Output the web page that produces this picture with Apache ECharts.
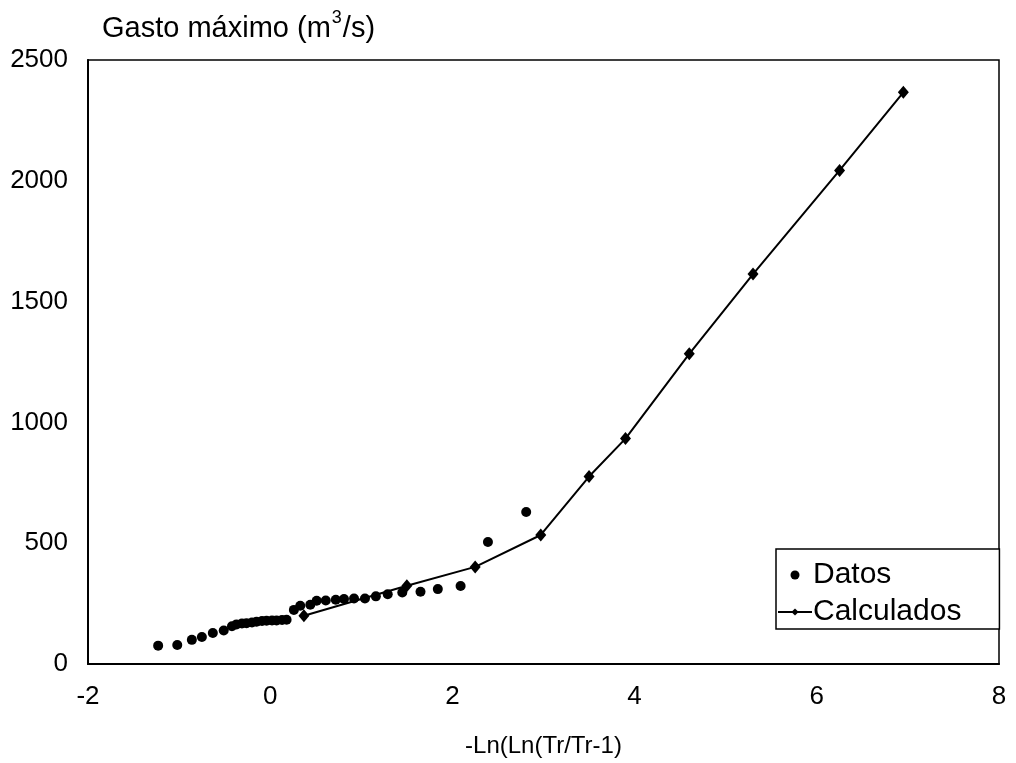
<!DOCTYPE html>
<html><head><meta charset="utf-8">
<script src="https://cdn.jsdelivr.net/npm/echarts@6/dist/echarts.min.js"></script>
<style>html,body{margin:0;padding:0;background:#fff}#c{width:1016px;height:763px}</style>
</head><body><div id="c"></div>
<script>
const datosX = [-1.23,-1.02,-0.86,-0.75,-0.63,-0.51,-0.42,-0.37,-0.31,-0.26,-0.20,-0.15,-0.09,-0.04,0.02,0.07,0.13,0.18,0.26,0.33,0.44,0.51,0.61,0.72,0.81,0.92,1.04,1.16,1.29,1.45,1.65,1.84,2.09,2.39,2.81];
const datosY = [76,79,100,112,128,139,156,164,168,169,172,175,178,179,180,180,182,183,224,241,245,262,263,266,269,271,271,280,289,296,299,310,323,505,629];
const calcX = [0.37,1.50,2.25,2.97,3.50,3.90,4.60,5.30,6.25,6.95];
const calcY = [200,324,402,534,776,933,1284,1614,2043,2366];
const xTicks = [-2,0,2,4,6,8];
const yTicks = [0,500,1000,1500,2000,2500];
const FONT = 'Liberation Sans, Arial, sans-serif';

const chart = echarts.init(document.getElementById('c'));
chart.setOption({
  animation: false,
  backgroundColor: '#fff',
  title: {
    text: '{n|Gasto máximo (m}{sup|3}{n|/s)}',
    left: 97, top: 4,
    textStyle: {
      fontFamily: FONT, fontSize: 29, fontWeight: 'normal', color: '#000',
      rich: {
        n: { fontSize: 29, color: '#000', fontFamily: FONT, verticalAlign: 'bottom', lineHeight: 34 },
        sup: { fontSize: 18, verticalAlign: 'top', lineHeight: 18, padding: [0,1,20,1], color: '#000', fontFamily: FONT }
      }
    }
  },
  legend: {
    orient: 'vertical',
    left: 776, top: 549,
    backgroundColor: '#fff',
    borderColor: '#000', borderWidth: 1.5, borderRadius: 0,
    padding: [11, 38, 2, 1],
    itemGap: 7,
    itemWidth: 34, itemHeight: 9,
    textStyle: { fontFamily: FONT, fontSize: 30, color: '#000', padding: [0,0,0,-4] },
    data: [
      { name: 'Datos', icon: 'circle' },
      { name: 'Calculados' }
    ]
  },
  grid: { left: 88, right: 17, top: 60, bottom: 98, show: true, borderColor: '#000', borderWidth: 1.5 },
  xAxis: {
    type: 'value', min: -2, max: 8, interval: 2,
    name: '-Ln(Ln(Tr/Tr-1)', nameLocation: 'middle', nameGap: 70,
    nameTextStyle: { fontFamily: FONT, fontSize: 24, color: '#000' },
    axisLine: { show: true, onZero: false, lineStyle: { color: '#000', width: 2 } },
    axisTick: { show: false },
    splitLine: { show: false },
    axisLabel: { fontFamily: FONT, fontSize: 26, color: '#000', margin: 20,
      formatter: v => xTicks.includes(v) ? String(v) : '' }
  },
  yAxis: {
    type: 'value', min: 0, max: 2500, interval: 500,
    axisLine: { show: true, onZero: false, lineStyle: { color: '#000', width: 2 } },
    axisTick: { show: false },
    splitLine: { show: false },
    axisLabel: { fontFamily: FONT, fontSize: 26, color: '#000', margin: 20,
      formatter: v => yTicks.includes(v) ? String(v) : '' }
  },
  series: [
    {
      name: 'Datos', type: 'scatter',
      data: datosX.map((x, i) => [x, datosY[i]]),
      symbol: 'circle', symbolSize: 10,
      itemStyle: { color: '#000', opacity: 1 },
      z: 3
    },
    {
      name: 'Calculados', type: 'line',
      data: calcX.map((x, i) => [x, calcY[i]]),
      symbol: 'diamond', symbolSize: [11, 13],
      showSymbol: true,
      lineStyle: { color: '#000', width: 2 },
      itemStyle: { color: '#000' },
      z: 2
    }
  ]
});
</script></body></html>
